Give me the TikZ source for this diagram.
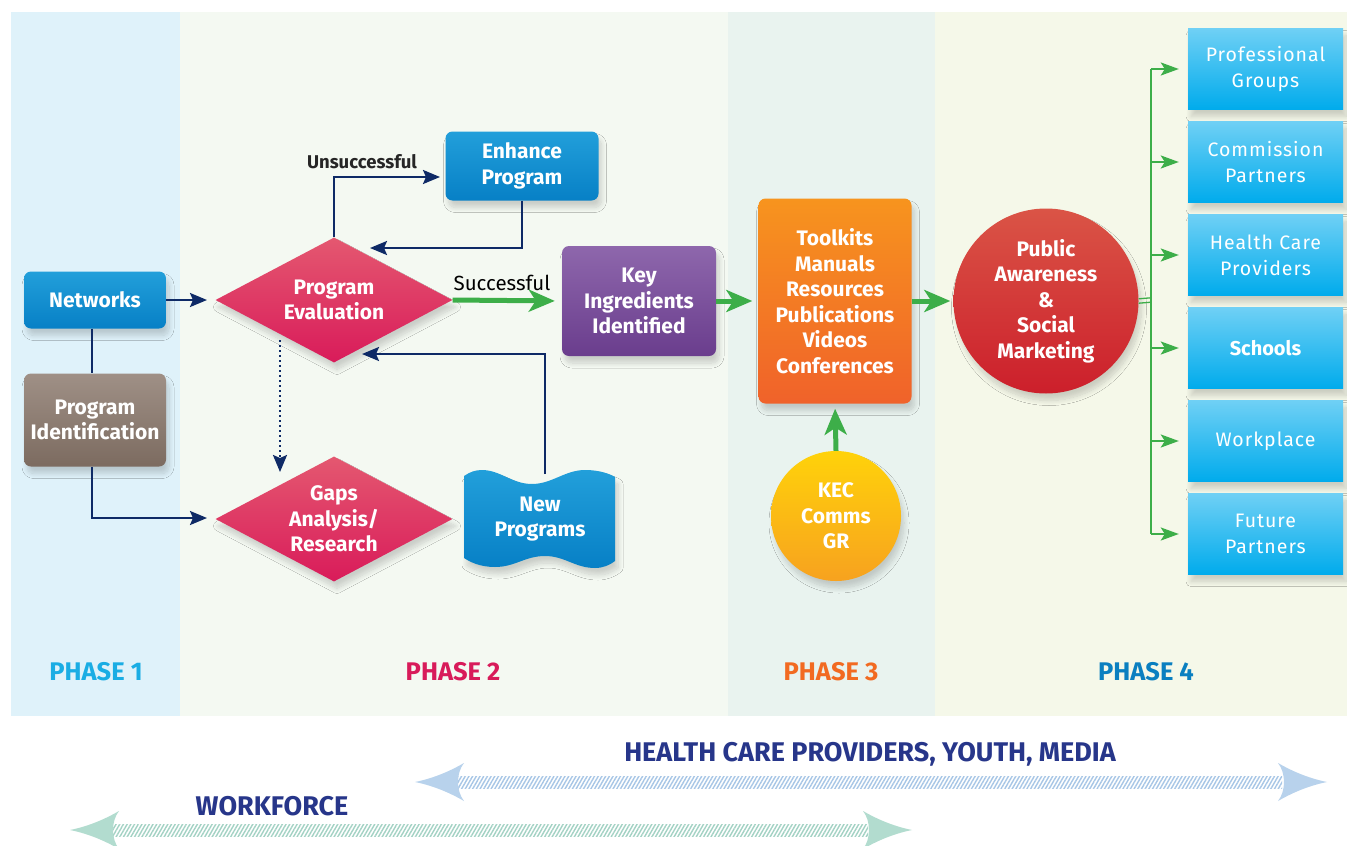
\documentclass[tikz,border=0pt]{standalone}
\usepackage{fontspec}
\setmainfont{Fira Sans}
\newfontfamily\widefont[LetterSpace=5]{Fira Sans}
\usetikzlibrary{shapes.geometric,arrows.meta,shadows.blur,patterns.meta,calc}
\definecolor{navyc}{HTML}{0E2A66}
\definecolor{greenc}{HTML}{3DAE49}
\definecolor{phAbg}{HTML}{DFF2FA}
\definecolor{phBbg}{HTML}{F4F9F2}
\definecolor{phCbg}{HTML}{E9F3EF}
\definecolor{phDbg}{HTML}{F5F8E9}
\definecolor{phAtx}{HTML}{1AADE4}
\definecolor{phBtx}{HTML}{D81B5A}
\definecolor{phCtx}{HTML}{F26A21}
\definecolor{phDtx}{HTML}{0A7FC0}
\definecolor{blueTop}{HTML}{229FDA}
\definecolor{blueBot}{HTML}{0780C6}
\definecolor{brownTop}{HTML}{9F9086}
\definecolor{brownBot}{HTML}{7C6B60}
\definecolor{pinkTop}{HTML}{E45870}
\definecolor{pinkBot}{HTML}{D91B5A}
\definecolor{purTop}{HTML}{8E67AC}
\definecolor{purBot}{HTML}{6A3D8D}
\definecolor{orTop}{HTML}{F7941E}
\definecolor{orBot}{HTML}{F0622A}
\definecolor{yeTop}{HTML}{FFD20A}
\definecolor{yeBot}{HTML}{F7A21F}
\definecolor{reTop}{HTML}{DA5446}
\definecolor{reBot}{HTML}{CC1F2B}
\definecolor{cyTop}{HTML}{6FD0F5}
\definecolor{cyMid}{HTML}{00AEEF}
\definecolor{cyBot}{HTML}{00ABEC}
\definecolor{arrA}{HTML}{B8D2EC}
\definecolor{arrAl}{HTML}{A7C6E6}
\definecolor{arrB}{HTML}{B2DCCF}
\definecolor{arrBl}{HTML}{A3D2C4}
\definecolor{bandtx}{HTML}{27368A}
\begin{document}
\begin{tikzpicture}[x=1pt,y=-1pt,
  sh/.style={blur shadow={shadow xshift=3pt,shadow yshift=-7pt,shadow blur radius=5pt,shadow blur steps=10,shadow opacity=17}},
  box/.style={rectangle,rounded corners=7pt,inner sep=0pt,align=center,text=white,
    font=\bfseries\fontsize{21}{25.5}\selectfont,sh},
  dia/.style={diamond,shape aspect=1.9,inner sep=0pt,align=center,text=white,
    minimum width=237pt,minimum height=125pt,top color=pinkTop,bottom color=pinkBot,
    font=\bfseries\fontsize{21}{25.5}\selectfont,sh},
  rbox/.style={rectangle,inner sep=0pt,align=center,text=white,minimum width=155pt,minimum height=81pt,
    top color=cyTop,middle color=cyMid,bottom color=cyBot,font=\widefont\fontsize{19.5}{26}\selectfont,sh},
  phase/.style={font=\bfseries\fontsize{25.5}{28}\selectfont},
  navy/.style={draw=navyc,line width=2.4pt,-{Stealth[length=17pt,width=14pt,inset=3pt]}},
  navyplain/.style={draw=navyc,line width=2.4pt},
  gbig/.style={draw=greenc,line width=5pt,-{Stealth[length=26pt,width=22pt,inset=7pt]}},
  gsmall/.style={draw=greenc,line width=2.2pt,-{Stealth[length=18pt,width=13pt,inset=4pt]}},
  lbl/.style={font=\fontsize{20.5}{22}\selectfont,text=black},
  band/.style={font=\bfseries\fontsize{27}{30}\selectfont,text=bandtx}
]
\clip (0,0) rectangle (1347,846);
\fill[white] (0,0) rectangle (1347,846);
% phase bands
\fill[phAbg] (11,12) rectangle (180,716);
\fill[phBbg] (180,12) rectangle (728,716);
\fill[phCbg] (728,12) rectangle (935,716);
\fill[phDbg] (935,12) rectangle (1347,716);
\node[phase,text=phAtx] (p1) at (96,672) {PHASE 1};
\node[phase,text=phBtx] (p2) at (453,672) {PHASE 2};
\node[phase,text=phCtx] (p3) at (831,672) {PHASE 3};
\node[phase,text=phDtx] (p4) at (1146,672) {PHASE 4};

% nodes
\node[box,minimum width=142pt,minimum height=57pt,top color=blueTop,bottom color=blueBot] (nw) at (95,300) {Networks};
\node[box,minimum width=142pt,minimum height=93pt,top color=brownTop,bottom color=brownBot] (pid) at (95,420) {Program\\Identification};
\node[dia] (pe) at (334,300) {Program\\Evaluation};
\node[dia] (ga) at (334,519) {Gaps\\Analysis/\\Research};
\node[box,minimum width=153pt,minimum height=69pt,top color=blueTop,bottom color=blueBot] (en) at (522,166) {Enhance\\Program};
\path[sh,top color=blueTop,bottom color=blueBot]
  (464,476) .. controls (470,472) and (475,470) .. (482,470)
  .. controls (500,470) and (512,484) .. (532,484)
  .. controls (552,484) and (565,470) .. (585,470)
  .. controls (600,470) and (610,474) .. (615,477)
  -- (615,561) .. controls (610,565) and (603,568) .. (595,568)
  .. controls (575,568) and (565,556) .. (545,556)
  .. controls (525,556) and (515,567) .. (495,567)
  .. controls (480,567) and (470,562) .. (464,558) -- cycle;
\node[align=center,text=white,font=\bfseries\fontsize{21}{25.5}\selectfont] (np) at (540,519) {New\\Programs};
\node[box,minimum width=154pt,minimum height=110pt,top color=purTop,bottom color=purBot] (ki) at (639,301) {Key\\Ingredients\\Identified};
\node[box,minimum width=153pt,minimum height=205pt,top color=orTop,bottom color=orBot] (tk) at (835,301) {Toolkits\\Manuals\\Resources\\Publications\\Videos\\Conferences};
\node[box,circle,minimum size=130pt,top color=yeTop,bottom color=yeBot] (kec) at (836,516) {KEC\\Comms\\GR};
\node[box,circle,minimum size=185pt,top color=reTop,bottom color=reBot] (pa) at (1046,301) {Public\\Awareness\\\&\\Social\\Marketing};

\node[rbox] (r1) at (1265.5,69) {Professional\\Groups};
\node[rbox] (r2) at (1265.5,162) {Commission\\Partners};
\node[rbox] (r3) at (1265.5,255) {Health Care\\Providers};
\node[rbox,font=\bfseries\fontsize{20}{26}\selectfont] (r4) at (1265.5,348) {Schools};
\node[rbox] (r5) at (1265.5,441) {Workplace};
\node[rbox] (r6) at (1265.5,534) {Future\\Partners};

% navy connectors
\coordinate (peIn) at (207,300);
\coordinate (gaIn) at (207,518);
\coordinate (enIn) at (440,177);
\coordinate (peTopIn) at (370,248);
\coordinate (npOut) at (545,474);
\coordinate (peBotIn) at (362,354);
\coordinate (dotA) at (280,340);
\coordinate (dotB) at (280,472);
\draw[navy] (nw.east) -- (peIn);
\draw[navyplain] (nw.south -| 92,0) -- (pid.north -| 92,0);
\draw[navy] (pid.south -| 92,0) |- (gaIn);
\draw[navy] (pe.north) |- (enIn);
\draw[navy] (en.south) |- (peTopIn);
\draw[navy] (npOut) |- (peBotIn);
\draw[navy,dash pattern=on 2pt off 3pt] (dotA) -- (dotB);
\node[font=\bfseries\fontsize{18.5}{20}\selectfont,text=black!85] (uns) at (362,162) {Unsuccessful};
\node[lbl] (suc) at (502,283) {Successful};

% green connectors
\draw[gbig,shorten >=7pt] (pe.east) -- (ki.west);
\draw[gbig,shorten >=6pt] (ki.east) -- (tk.west);
\draw[gbig,shorten >=3pt] (tk.east) -- (pa.west);
\draw[gbig,shorten >=5pt] (kec.north) -- (tk.south);
\coordinate (trunk) at (1151,300);
\draw[greenc,line width=1.3pt] ($(pa.east)+(0,-2.2)$) -- ($(trunk)+(0,-2.2)$);
\draw[greenc,line width=1.3pt] ($(pa.east)+(0,2.2)$) -- ($(trunk)+(0,2.2)$);
\draw[greenc,line width=2.2pt] (trunk |- r1.west) -- (trunk |- r6.west);
\foreach \i in {1,...,6}{
  \draw[gsmall,shorten >=9pt] (trunk |- r\i.west) -- (r\i.west);
}

% bottom audience arrows
\node[band] (hc) at (870,754) {HEALTH CARE PROVIDERS, YOUTH, MEDIA};
\node[band] (wf) at (272,806) {WORKFORCE};
\path[pattern={Lines[angle=60,distance=3.2pt,line width=1.4pt]},pattern color=arrAl] (458,776) rectangle (1282,788);
\fill[arrA] (415,782) .. controls (435,778) and (452,770) .. (464,763)
  .. controls (456,773) and (456,791) .. (464,801)
  .. controls (452,794) and (435,786) .. cycle;
\fill[arrA] (1327,782) .. controls (1307,778) and (1290,770) .. (1278,763)
  .. controls (1286,773) and (1286,791) .. (1278,801)
  .. controls (1290,794) and (1307,786) .. cycle;
\path[pattern={Lines[angle=60,distance=3.2pt,line width=1.4pt]},pattern color=arrBl] (112,824) rectangle (868,836);
\fill[arrB] (70,830) .. controls (90,826) and (107,818) .. (119,811)
  .. controls (111,821) and (111,839) .. (119,849)
  .. controls (107,842) and (90,834) .. cycle;
\fill[arrB] (912,830) .. controls (892,826) and (875,818) .. (863,811)
  .. controls (871,821) and (871,839) .. (863,849)
  .. controls (875,842) and (892,834) .. cycle;
\end{tikzpicture}
\end{document}
